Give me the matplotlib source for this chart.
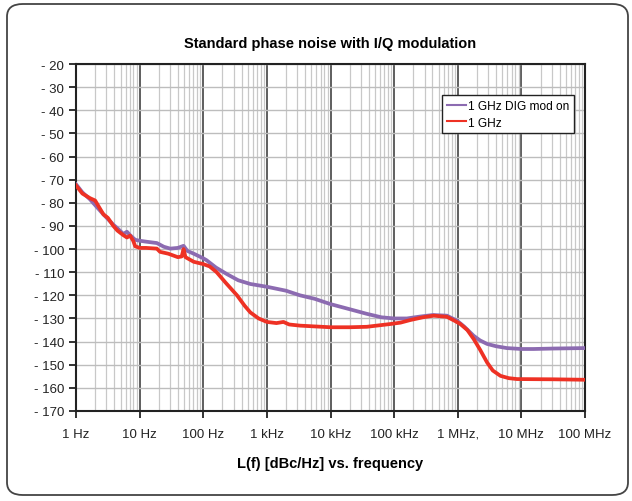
import matplotlib.pyplot as plt
import numpy as np
from matplotlib.patches import FancyBboxPatch
from matplotlib.ticker import FixedLocator, LogLocator, NullFormatter

plt.rcParams['font.family'] = ['Liberation Sans', 'DejaVu Sans']

# Data (frequency as log10 of Hz, level in dBc/Hz)
mod_on_logf = [0, 0.1, 0.22, 0.3, 0.43, 0.5, 0.587, 0.65, 0.744, 0.8, 0.85, 0.93,
               1.0, 1.1, 1.27, 1.38, 1.48, 1.6, 1.69, 1.75, 1.85, 2.0, 2.05, 2.2,
               2.37, 2.55, 2.74, 3.0, 3.3, 3.52, 3.75, 4.0, 4.3, 4.57, 4.8, 5.0,
               5.2, 5.4, 5.61, 5.83, 5.99, 6.1, 6.25, 6.35, 6.46, 6.6, 6.77, 7.0,
               7.19, 7.5, 8.0]
mod_on_db = [-72, -75.5, -78.5, -81, -85, -87, -89.5, -91, -93.5, -92.5, -94, -96,
             -96.4, -96.8, -97.4, -99, -99.8, -99.5, -98.6, -100.8, -102, -104, -104.8, -108,
             -110.8, -113.5, -115.1, -116.3, -118, -120, -121.5, -123.8, -126, -128, -129.5, -130,
             -130, -129.2, -128.5, -128.8, -131, -133.5, -137.5, -139.5, -141, -142, -142.8, -143.2,
             -143.2, -143, -142.8]

plain_logf = [0, 0.1, 0.22, 0.3, 0.43, 0.5, 0.587, 0.65, 0.744, 0.8, 0.85, 0.9,
              0.93, 1.0, 1.1, 1.27, 1.32, 1.45, 1.6, 1.66, 1.69, 1.72, 1.85, 2.0,
              2.1, 2.21, 2.35, 2.53, 2.65, 2.74, 2.87, 3.0, 3.15, 3.26, 3.35, 3.52,
              4.0, 4.3, 4.57, 4.94, 5.1, 5.25, 5.45, 5.62, 5.83, 5.95, 6.04, 6.15,
              6.25, 6.35, 6.46, 6.55, 6.67, 6.8, 6.93, 7.5, 8.0]
plain_db = [-72.5, -76, -78, -79, -85, -86.5, -90, -92, -94, -95, -94.2, -96.5,
            -98.8, -99.5, -99.5, -99.8, -101.2, -102, -103.5, -103.2, -100, -103.5, -105.5, -106.5,
            -107.5, -110, -114.5, -120, -124.5, -127.4, -130, -131.5, -132, -131.5, -132.6, -133.1,
            -133.8, -133.8, -133.6, -132.4, -131.8, -130.7, -129.5, -128.8, -129.3, -131, -132.4, -135,
            -138.9, -143.5, -149, -152.5, -154.8, -155.8, -156.2, -156.3, -156.5]

x_ticks = [1, 10, 100, 1e3, 1e4, 1e5, 1e6, 1e7, 1e8]
x_labels = ['1 Hz', '10 Hz', '100 Hz', '1 kHz', '10 kHz', '100 kHz', '1 MHz,', '10 MHz', '100 MHz']
y_ticks = list(range(-170, -19, 10))

fig = plt.figure(figsize=(6.32, 5.02), dpi=100)
ax = fig.add_axes([0.1203, 0.1793, 0.8054, 0.6912])

# rounded frame around the whole figure
frame = FancyBboxPatch((7 / 632, 6 / 502), 621 / 632, 491 / 502,
                       boxstyle='round,pad=0,rounding_size=0.025',
                       transform=fig.transFigure, fill=False,
                       edgecolor='#444444', linewidth=1.3)
fig.patches.append(frame)

ax.plot(10 ** np.array(mod_on_logf), mod_on_db, color='#8c6bb1', lw=2.7,
        label='1 GHz DIG mod on', zorder=3)
ax.plot(10 ** np.array(plain_logf), plain_db, color='#ee3124', lw=2.7,
        label='1 GHz', zorder=4)

ax.set_xscale('log')
ax.set_xlim(1, 1e8)
ax.set_ylim(-170, -20)

ax.xaxis.set_major_locator(FixedLocator(x_ticks))
ax.set_xticklabels(x_labels)
ax.xaxis.set_minor_locator(LogLocator(base=10, subs=np.arange(2, 10), numticks=20))
ax.xaxis.set_minor_formatter(NullFormatter())
ax.set_yticks(y_ticks)
ax.set_yticklabels(['- %d' % abs(v) for v in y_ticks])

ax.grid(True, which='major', axis='x', color='#333333', lw=1.1, zorder=1)
ax.grid(True, which='minor', axis='x', color='#c8c8c8', lw=0.9, zorder=0)
ax.grid(True, which='major', axis='y', color='#bdbdbd', lw=1.0, zorder=0)

ax.tick_params(axis='both', which='major', direction='out', length=5, width=1.3,
               labelsize=9.5, colors='#222222')
ax.tick_params(axis='x', which='minor', length=0)
ax.tick_params(axis='x', pad=7)
for s in ax.spines.values():
    s.set_linewidth(1.5)
    s.set_color('#222222')

ax.set_title('Standard phase noise with I/Q modulation', fontsize=10.5,
             fontweight='bold', pad=12)
ax.set_xlabel('L(f) [dBc/Hz] vs. frequency', fontsize=10.5, fontweight='bold',
              labelpad=12)

leg = ax.legend(loc='upper left', bbox_to_anchor=(442 / 632, 1 - 96 / 502),
                bbox_transform=fig.transFigure, fontsize=8.6, frameon=True,
                fancybox=False, edgecolor='#222222', framealpha=1,
                handlelength=1.6, handletextpad=0.2, borderpad=0.4,
                labelspacing=0.4, borderaxespad=0)
leg.get_frame().set_linewidth(1.0)
for line in leg.get_lines():
    line.set_linewidth(1.5)

fig.savefig('out.png', dpi=100)
